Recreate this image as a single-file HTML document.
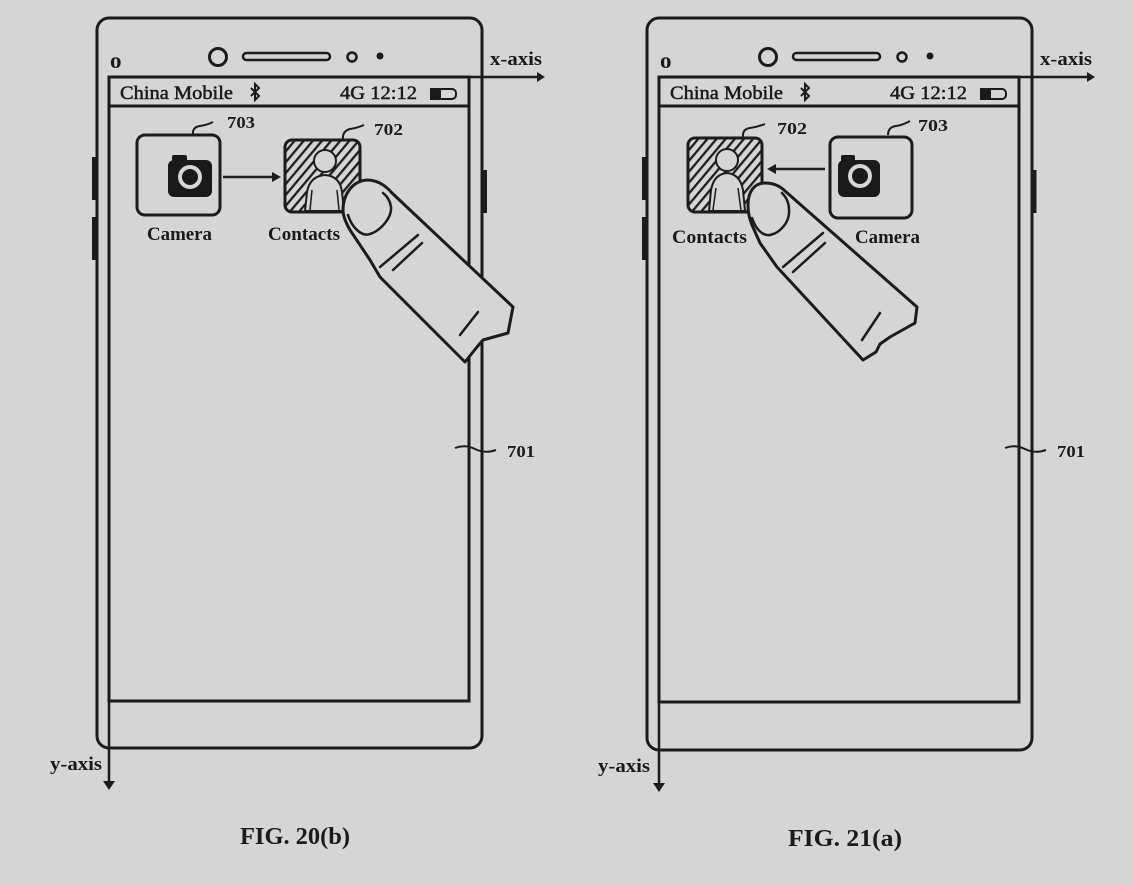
<!DOCTYPE html>
<html><head><meta charset="utf-8"><style>
html,body{margin:0;padding:0;background:#d5d5d5;}
svg{display:block;}
text{font-family:"Liberation Serif",serif;fill:#1a1a1a;}
.b{font-weight:bold;}
</style></head><body>
<svg width="1133" height="885" viewBox="0 0 1133 885" xmlns="http://www.w3.org/2000/svg">
<defs>
<pattern id="hatch" patternUnits="userSpaceOnUse" width="7" height="7" patternTransform="rotate(40)">
<rect x="0" y="0" width="2.3" height="7" fill="#1e1e1e"/>
</pattern>
<clipPath id="c1"><rect x="285" y="140" width="75" height="72" rx="7"/></clipPath>
<clipPath id="c2"><rect x="688" y="138" width="74" height="74" rx="7"/></clipPath>
</defs>
<rect width="1133" height="885" fill="#d5d5d5"/>

<g stroke="#1c1c1c" fill="none" stroke-width="3">
<!-- Phone 1 frame -->
<rect x="97" y="18" width="385" height="730" rx="12"/>
<rect x="109" y="77" width="360" height="624"/>
<line x1="109" y1="106" x2="469" y2="106"/>
<!-- axes -->
<line x1="109" y1="77" x2="537" y2="77" stroke-width="2.5"/>
<line x1="109" y1="77" x2="109" y2="782" stroke-width="2.5"/>
<!-- buttons -->
<line x1="94.5" y1="157" x2="94.5" y2="200" stroke-width="5"/>
<line x1="94.5" y1="217" x2="94.5" y2="260" stroke-width="5"/>
<line x1="484.5" y1="170" x2="484.5" y2="213" stroke-width="5"/>
<!-- sensors -->
<circle cx="218" cy="57" r="8.5"/>
<rect x="243" y="53" width="87" height="7" rx="3.5" stroke-width="2.5"/>
<circle cx="352" cy="57" r="4.5" stroke-width="2.5"/>
</g>
<circle cx="380" cy="56" r="3.5" fill="#1c1c1c"/>
<polygon points="537,72 545,77 537,82" fill="#1c1c1c"/>
<polygon points="103,781 115,781 109,790" fill="#1c1c1c"/>

<g stroke="#1c1c1c" fill="none" stroke-width="3">
<!-- Phone 2 frame -->
<rect x="647" y="18" width="385" height="732" rx="12"/>
<rect x="659" y="77" width="360" height="625"/>
<line x1="659" y1="106" x2="1019" y2="106"/>
<line x1="659" y1="77" x2="1087" y2="77" stroke-width="2.5"/>
<line x1="659" y1="77" x2="659" y2="784" stroke-width="2.5"/>
<line x1="644.5" y1="157" x2="644.5" y2="200" stroke-width="5"/>
<line x1="644.5" y1="217" x2="644.5" y2="260" stroke-width="5"/>
<line x1="1034" y1="170" x2="1034" y2="213" stroke-width="5"/>
<circle cx="768" cy="57" r="8.5"/>
<rect x="793" y="53" width="87" height="7" rx="3.5" stroke-width="2.5"/>
<circle cx="902" cy="57" r="4.5" stroke-width="2.5"/>
</g>
<circle cx="930" cy="56" r="3.5" fill="#1c1c1c"/>
<polygon points="1087,72 1095,77 1087,82" fill="#1c1c1c"/>
<polygon points="653,783 665,783 659,792" fill="#1c1c1c"/>

<!-- axis labels -->
<text class="b" x="110" y="68" font-size="23">o</text>
<text class="b" x="490" y="65" font-size="19" textLength="52" lengthAdjust="spacingAndGlyphs">x-axis</text>
<text class="b" x="50" y="770" font-size="19" textLength="52" lengthAdjust="spacingAndGlyphs">y-axis</text>
<text class="b" x="660" y="68" font-size="23">o</text>
<text class="b" x="1040" y="65" font-size="19" textLength="52" lengthAdjust="spacingAndGlyphs">x-axis</text>
<text class="b" x="598" y="772" font-size="19" textLength="52" lengthAdjust="spacingAndGlyphs">y-axis</text>

<!-- status bars -->
<g stroke="#1a1a1a" stroke-width="0.5">
<text x="120" y="99" font-size="19" textLength="113" lengthAdjust="spacingAndGlyphs">China Mobile</text>
<text x="340" y="99" font-size="19" textLength="77" lengthAdjust="spacingAndGlyphs">4G 12:12</text>
<text x="670" y="99" font-size="19" textLength="113" lengthAdjust="spacingAndGlyphs">China Mobile</text>
<text x="890" y="99" font-size="19" textLength="77" lengthAdjust="spacingAndGlyphs">4G 12:12</text>
</g>
<g stroke="#1a1a1a" stroke-width="2" fill="none">
<path d="M251,88 L259,96 L255,100 L255,84 L259,88 L251,96"/>
<path d="M801,88 L809,96 L805,100 L805,84 L809,88 L801,96"/>
<rect x="431" y="89" width="25" height="10" rx="4"/>
<rect x="981" y="89" width="25" height="10" rx="4"/>
</g>
<rect x="430" y="88" width="11" height="12" fill="#1a1a1a"/>
<rect x="980" y="88" width="11" height="12" fill="#1a1a1a"/>

<!-- ===== Phone 1 content ===== -->
<!-- Camera icon -->
<rect x="137" y="135" width="83" height="80" rx="8" fill="none" stroke="#1c1c1c" stroke-width="3"/>
<rect x="168" y="160" width="44" height="37" rx="6" fill="#1a1a1a"/>
<rect x="172" y="155" width="15" height="8" rx="2" fill="#1a1a1a"/>
<circle cx="190" cy="177" r="12" fill="#d5d5d5"/>
<circle cx="190" cy="177" r="8" fill="#1a1a1a"/>
<!-- arrow -->
<line x1="223" y1="177" x2="274" y2="177" stroke="#1c1c1c" stroke-width="2.5"/>
<polygon points="272,172 281,177 272,182" fill="#1c1c1c"/>
<!-- Contacts icon -->
<rect x="285" y="140" width="75" height="72" fill="url(#hatch)" clip-path="url(#c1)"/>
<rect x="285" y="140" width="75" height="72" rx="7" fill="none" stroke="#1c1c1c" stroke-width="3"/>
<path d="M305,211 L307,192 Q310,176 325,175 Q340,176 342,192 L344,211 Z" fill="#d5d5d5" stroke="#1c1c1c" stroke-width="2"/>
<path d="M312,190 L310,210 M337,190 L339,210" stroke="#1c1c1c" stroke-width="1.5" fill="none"/>
<circle cx="325" cy="161" r="11" fill="#d5d5d5" stroke="#1c1c1c" stroke-width="2"/>
<!-- leaders -->
<g fill="none" stroke="#1c1c1c" stroke-width="2">
<path d="M193,135 Q192,127 200,126 Q207,125 213,122"/>
<path d="M343,140 Q342,131 350,129 Q357,128 364,125"/>
<path d="M455,448 Q465,444 475,449 Q485,454 496,450"/>
</g>
<text class="b" x="227" y="128" font-size="17" textLength="28" lengthAdjust="spacingAndGlyphs">703</text>
<text class="b" x="374" y="135" font-size="17" textLength="29" lengthAdjust="spacingAndGlyphs">702</text>
<text class="b" x="147" y="240" font-size="19" textLength="65" lengthAdjust="spacingAndGlyphs">Camera</text>
<text class="b" x="268" y="240" font-size="19" textLength="72" lengthAdjust="spacingAndGlyphs">Contacts</text>
<text class="b" x="507" y="457" font-size="17" textLength="28" lengthAdjust="spacingAndGlyphs">701</text>
<!-- finger 1 -->
<path d="M343,210 C343,195 352,181 367,180 C378,180 386,186 392,193 L513,307 L508,333 L483,340 L477,347 L465,362 L380,277 L370,260 L350,230 C346,223 343,216 343,210 Z" fill="#d5d5d5" stroke="#1c1c1c" stroke-width="3" stroke-linejoin="round"/>
<g fill="none" stroke="#1c1c1c" stroke-width="2.5" stroke-linecap="round">
<path d="M348,215 C352,228 362,237 370,234 C380,231 392,218 391,207 C390,200 387,196 383,193"/>
<line x1="380" y1="267" x2="418" y2="235"/>
<line x1="393" y1="270" x2="422" y2="243"/>
<line x1="460" y1="335" x2="478" y2="312"/>
</g>

<!-- ===== Phone 2 content ===== -->
<rect x="688" y="138" width="74" height="74" fill="url(#hatch)" clip-path="url(#c2)"/>
<rect x="688" y="138" width="74" height="74" rx="7" fill="none" stroke="#1c1c1c" stroke-width="3"/>
<path d="M709,211 L711,190 Q714,174 727,173 Q740,174 743,190 L745,211 Z" fill="#d5d5d5" stroke="#1c1c1c" stroke-width="2"/>
<path d="M716,188 L713,210 M738,188 L741,210" stroke="#1c1c1c" stroke-width="1.5" fill="none"/>
<circle cx="727" cy="160" r="11" fill="#d5d5d5" stroke="#1c1c1c" stroke-width="2"/>
<!-- arrow 2 -->
<line x1="825" y1="169" x2="774" y2="169" stroke="#1c1c1c" stroke-width="2.5"/>
<polygon points="776,164 767,169 776,174" fill="#1c1c1c"/>
<!-- camera 2 -->
<rect x="830" y="137" width="82" height="81" rx="8" fill="none" stroke="#1c1c1c" stroke-width="3"/>
<rect x="838" y="160" width="42" height="37" rx="6" fill="#1a1a1a"/>
<rect x="841" y="155" width="14" height="8" rx="2" fill="#1a1a1a"/>
<circle cx="860" cy="176" r="12" fill="#d5d5d5"/>
<circle cx="860" cy="176" r="8" fill="#1a1a1a"/>
<g fill="none" stroke="#1c1c1c" stroke-width="2">
<path d="M743,138 Q742,129 750,128 Q757,127 765,124"/>
<path d="M888,135 Q888,127 896,126 Q903,125 910,121"/>
<path d="M1005,448 Q1015,444 1025,449 Q1035,454 1046,450"/>
</g>
<text class="b" x="777" y="134" font-size="17" textLength="30" lengthAdjust="spacingAndGlyphs">702</text>
<text class="b" x="918" y="131" font-size="17" textLength="30" lengthAdjust="spacingAndGlyphs">703</text>
<text class="b" x="672" y="243" font-size="19" textLength="75" lengthAdjust="spacingAndGlyphs">Contacts</text>
<text class="b" x="855" y="243" font-size="19" textLength="65" lengthAdjust="spacingAndGlyphs">Camera</text>
<text class="b" x="1057" y="457" font-size="17" textLength="28" lengthAdjust="spacingAndGlyphs">701</text>
<!-- finger 2 -->
<path d="M748,205 C748,192 754,183 765,183 C774,183 780,186 785,191 L917,307 L915,323 L890,337 L880,344 L876,352 L863,360 L777,267 L760,243 L752,225 C749,218 748,212 748,205 Z" fill="#d5d5d5" stroke="#1c1c1c" stroke-width="3" stroke-linejoin="round"/>
<g fill="none" stroke="#1c1c1c" stroke-width="2.5" stroke-linecap="round">
<path d="M752,218 C756,230 763,236 770,235 C780,233 790,222 789,210 C789,203 786,197 782,193"/>
<line x1="783" y1="267" x2="823" y2="233"/>
<line x1="793" y1="272" x2="825" y2="243"/>
<line x1="862" y1="340" x2="880" y2="313"/>
</g>

<!-- captions -->
<text class="b" x="240" y="844" font-size="24" textLength="110" lengthAdjust="spacingAndGlyphs">FIG. 20(b)</text>
<text class="b" x="788" y="846" font-size="24" textLength="114" lengthAdjust="spacingAndGlyphs">FIG. 21(a)</text>
</svg>
</body></html>
